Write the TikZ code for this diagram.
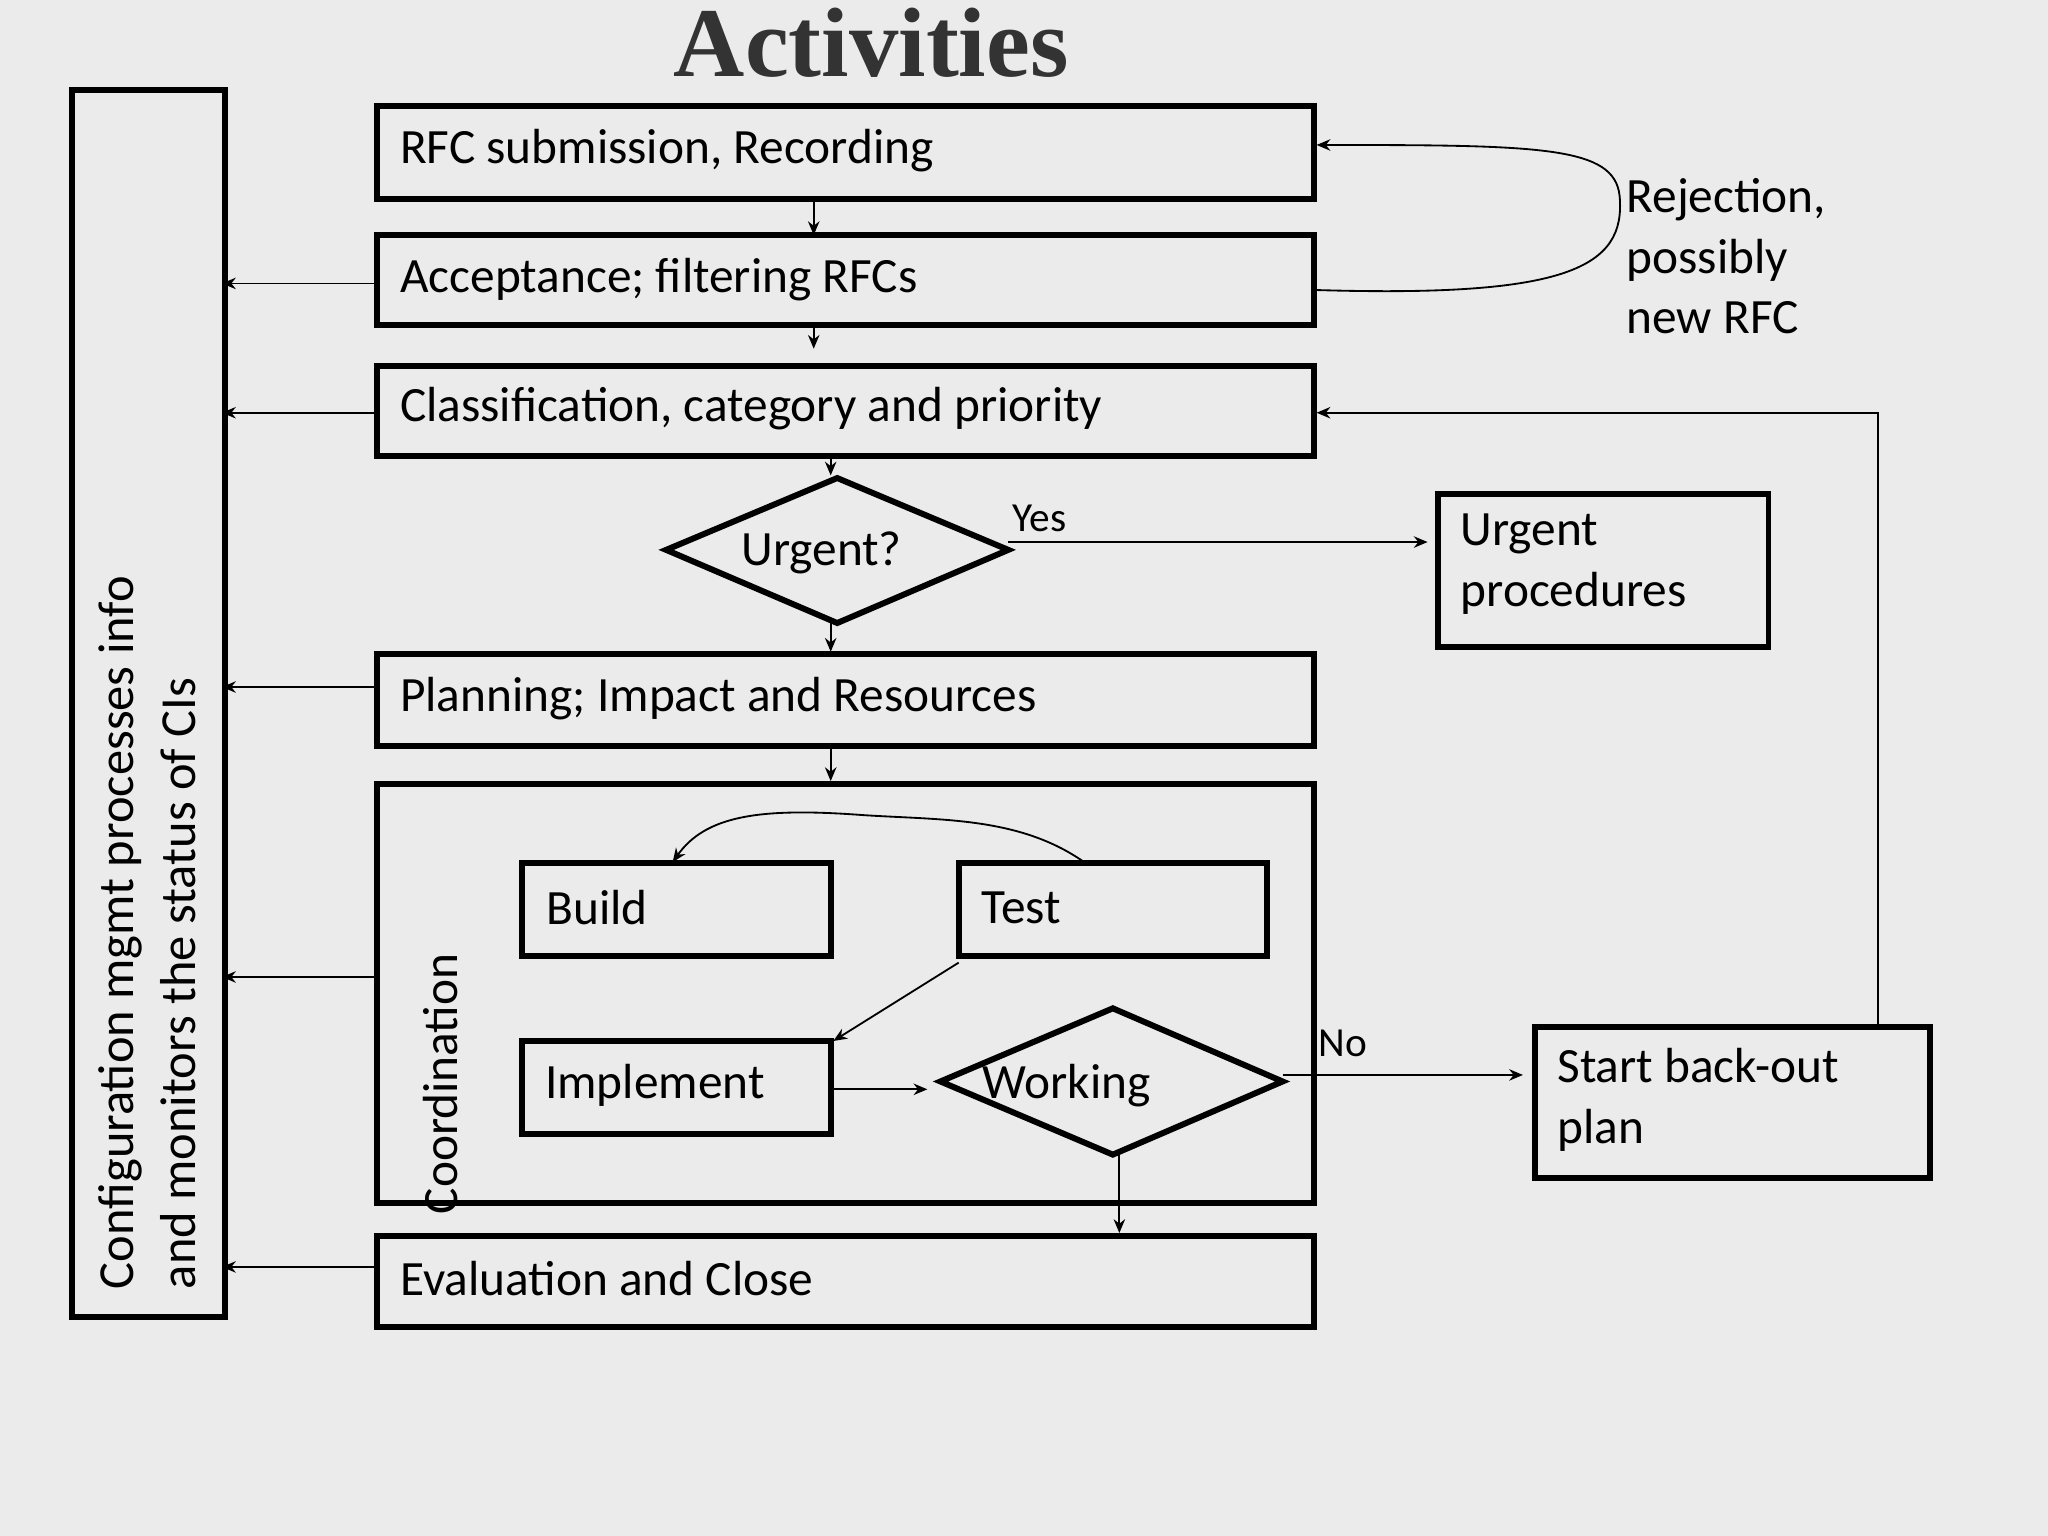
\documentclass[tikz,border=0pt]{standalone}
\usepackage{fontspec}
\setmainfont{Carlito}
\newfontfamily\titlefont{Liberation Serif}
\usetikzlibrary{arrows.meta,shapes.geometric}
\begin{document}
\begin{tikzpicture}[x=0.02cm,y=-0.02cm,
 box/.style={draw,line width=2.6pt,inner sep=0},
 lbl/.style={font=\fontsize{21.5}{26.5}\selectfont,anchor=west,inner sep=0},
 arr/.style={-{Stealth[length=6pt,width=5pt]},line width=0.8pt}]
\fill[gray!16] (0,0) rectangle (1568,1176);
\useasboundingbox (0,0) rectangle (1568,1176);
\node[font=\titlefont\bfseries\fontsize{43}{47}\selectfont,text=black!80] (title) at (667,33) {Activities};
\draw[box] (55,69) rectangle (172,1008);
\node[rotate=90,align=left,font=\fontsize{22}{27}\selectfont] (cfg) at (113,714) {Configuration mgmt processes info\\and monitors the status of CIs};
\draw[box] (289,81) rectangle (1006,152); \node[lbl] (b1) at (306,115) {RFC submission, Recording};
\draw[box] (289,180) rectangle (1006,249); \node[lbl] (b2) at (306,214) {Acceptance; filtering RFCs};
\draw[box] (289,280) rectangle (1006,349); \node[lbl] (b3) at (306,313) {Classification, category and priority};
\draw[box] (510,421) -- (641,366) -- (772,421) -- (641,477) -- cycle;
\node[font=\fontsize{21.5}{26}\selectfont] (urg) at (629,423) {Urgent?};
\draw[box] (1101,378) rectangle (1354,495);
\node[lbl,align=left,anchor=north west] (up) at (1118,393) {Urgent\\procedures};
\draw[box] (289,501) rectangle (1006,571); \node[lbl] (b4) at (306,535) {Planning; Impact and Resources};
\draw[box] (289,600) rectangle (1006,921);
\node[lbl,rotate=90,anchor=west] (coord) at (337,930) {Coordination};
\draw[box] (400,661) rectangle (636,732); \node[lbl] (build) at (418,695) {Build};
\draw[box] (734,661) rectangle (970,732); \node[lbl] (test) at (751,695) {Test};
\draw[box] (400,797) rectangle (636,868); \node[lbl] (impl) at (417,831) {Implement};
\draw[box] (720,828) -- (852,772) -- (982,828) -- (852,884) -- cycle;
\node[lbl] (work) at (752,831) {Working};
\draw[box] (289,946) rectangle (1006,1016); \node[lbl] (eval) at (306,979) {Evaluation and Close};
\draw[box] (1175,786) rectangle (1478,902);
\node[lbl,align=left,anchor=north west] (bo) at (1192,802) {Start back-out\\plan};
\node[lbl,align=left,anchor=north west] (rej) at (1245,136) {Rejection,\\possibly\\new RFC};
\node[lbl] (yes) at (775,397) {\fontsize{18}{20}\selectfont Yes};
\node[lbl] (no) at (1009,799) {\fontsize{18}{20}\selectfont No};
% vertical flow
\draw[arr] (623,152) -- (623,180);
\draw[arr] (623,249) -- (623,267);
\draw[arr] (636,349) -- (636,364);
\draw[arr] (636,477) -- (636,499);
\draw[arr] (636,571) -- (636,598);
\draw[arr] (857,884) -- (857,944);
% to left
\foreach \y in {217,316,526,748,970} \draw[arr] (289,\y) -- (170,\y);
% rejection
\draw[arr] (1006,222) .. controls (1200,228) and (1245,205) .. (1240,150) .. controls (1236,112) and (1180,111) .. (1008,111);
\draw[arr] (772,415) -- (1093,415);
\draw[arr] (982,823) -- (1166,823);
\draw[arr] (1438,786) -- (1438,316) -- (1008,316);
\draw[arr] (830,660) .. controls (780,625) and (720,628) .. (660,624) .. controls (580,618) and (540,625) .. (515,660);
\draw[arr] (734,737) -- (638,797);
\draw[arr] (636,834) -- (710,834);
\end{tikzpicture}
\end{document}
